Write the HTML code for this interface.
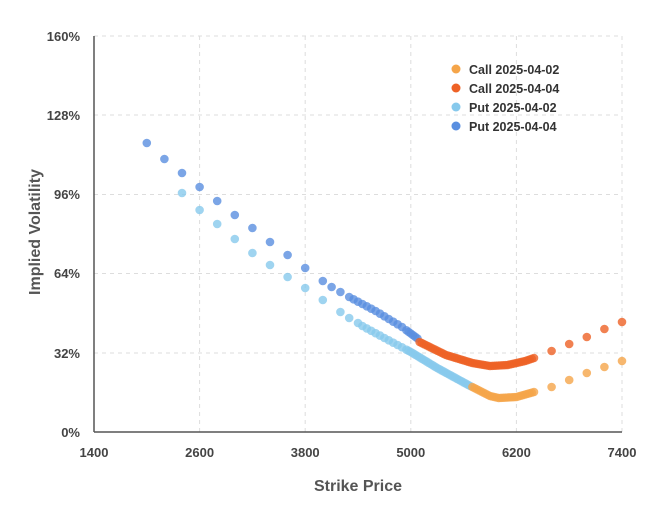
<!DOCTYPE html>
<html><head><meta charset="utf-8"><style>
body{margin:0;background:#fff;}
svg text{font-family:"Liberation Sans",sans-serif;}
</style></head><body>
<svg id="s" width="666" height="508" xmlns="http://www.w3.org/2000/svg">
<g stroke="#ddd" stroke-dasharray="4,4" stroke-width="1">
<line x1="94" y1="36" x2="622" y2="36"/><line x1="94" y1="115" x2="622" y2="115"/>
<line x1="94" y1="194.5" x2="622" y2="194.5"/><line x1="94" y1="273.5" x2="622" y2="273.5"/>
<line x1="94" y1="353" x2="622" y2="353"/>
<line x1="199.6" y1="36" x2="199.6" y2="432"/><line x1="305.2" y1="36" x2="305.2" y2="432"/>
<line x1="410.8" y1="36" x2="410.8" y2="432"/><line x1="516.4" y1="36" x2="516.4" y2="432"/>
<line x1="622" y1="36" x2="622" y2="432"/>
</g>
<line x1="94" y1="36" x2="94" y2="432" stroke="#555" stroke-width="1.5"/>
<line x1="94" y1="432" x2="622" y2="432" stroke="#555" stroke-width="1.5"/>
<g font-size="13" font-weight="bold" fill="#444" text-anchor="end">
<text x="80" y="41">160%</text><text x="80" y="120">128%</text><text x="80" y="199">96%</text>
<text x="80" y="278">64%</text><text x="80" y="358">32%</text><text x="80" y="437">0%</text>
</g>
<g font-size="13" font-weight="bold" fill="#444" text-anchor="middle">
<text x="94" y="457">1400</text><text x="199.6" y="457">2600</text><text x="305.2" y="457">3800</text>
<text x="410.8" y="457">5000</text><text x="516.4" y="457">6200</text><text x="622" y="457">7400</text>
</g>
<text x="358" y="491" font-size="16" font-weight="bold" fill="#555" text-anchor="middle">Strike Price</text>
<text transform="translate(40,232) rotate(-90)" font-size="16" font-weight="bold" fill="#555" text-anchor="middle">Implied Volatility</text>
<g id="pts"></g>
<g font-size="12.5" font-weight="bold" fill="#333">
<circle cx="456" cy="69" r="4.5" fill="#f5a54a"/><text x="469" y="74">Call 2025-04-02</text>
<circle cx="456" cy="88" r="4.5" fill="#ee6226"/><text x="469" y="93">Call 2025-04-04</text>
<circle cx="456" cy="107" r="4.5" fill="#87c9ec"/><text x="469" y="112">Put 2025-04-02</text>
<circle cx="456" cy="126" r="4.5" fill="#5a8fe0"/><text x="469" y="131">Put 2025-04-04</text>
</g>
</svg>
<script>
var g=document.getElementById('pts'),NS='http://www.w3.org/2000/svg';
function X(s){return 94+(s-1400)*0.088;}
function interp(a,s){for(var i=0;i<a.length-1;i++){if(s<=a[i+1][0]){var t=(s-a[i][0])/(a[i+1][0]-a[i][0]);return a[i][1]+t*(a[i+1][1]-a[i][1]);}}return a[a.length-1][1];}
function dot(s,y,c){var e=document.createElementNS(NS,'circle');e.setAttribute('cx',X(s));e.setAttribute('cy',y);e.setAttribute('r',4.3);e.setAttribute('fill',c);e.setAttribute('fill-opacity',0.8);g.appendChild(e);}
function sparse(l,c){l.forEach(function(p){dot(p[0],p[1],c);});}
function dense(a,s0,s1,c){for(var s=s0;s<=s1;s+=(s<4950?50:25))dot(s,interp(a,s),c);}
var P2='#87c9ec',P4='#5a8fe0',C2='#f5a54a',C4='#ee6226';
sparse([[2400,193],[2600,210],[2800,224],[3000,239],[3200,253],[3400,265],[3600,277],[3800,288],[4000,300],[4200,312],[4300,318],[4400,323]],P2);
dense([[4450,326],[4700,338],[5000,352],[5300,368],[5675,386]],4450,5675,P2);
dense([[5700,387],[5900,396],[6000,398],[6200,397],[6400,392]],5700,6400,C2);
sparse([[6600,387],[6800,380],[7000,373],[7200,367],[7400,361]],C2);
sparse([[2000,143],[2200,159],[2400,173],[2600,187],[2800,201],[3000,215],[3200,228],[3400,242],[3600,255],[3800,268],[4000,281],[4100,287],[4200,292]],P4);
dense([[4300,297],[4600,311],[4900,327],[5100,340]],4300,5075,P4);
dense([[5100,342],[5400,355],[5700,363],[5900,366],[6100,365],[6300,361],[6400,358]],5100,6400,C4);
sparse([[6600,351],[6800,344],[7000,337],[7200,329],[7400,322]],C4);
</script>
</body></html>
